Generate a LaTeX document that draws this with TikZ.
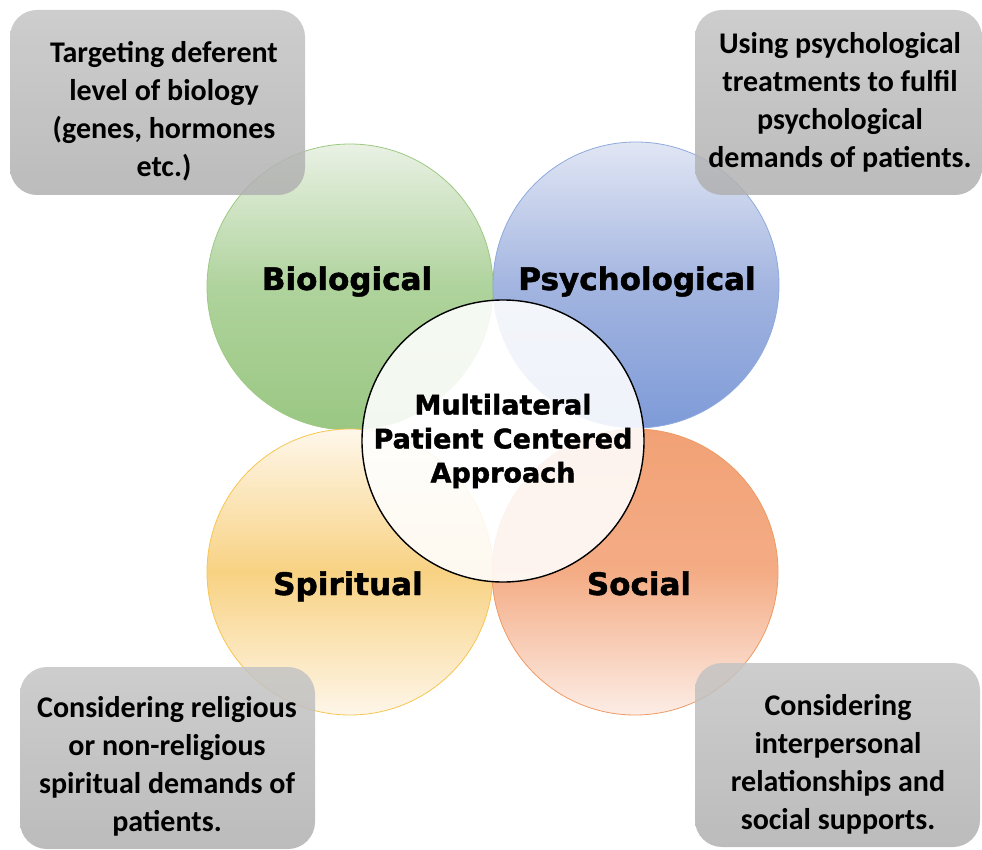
\documentclass[tikz,border=0pt]{standalone}
\usepackage{fontspec}
\newfontfamily\notefont{Carlito}
\newfontfamily\headfont{DejaVu Sans}[BoldFeatures={FakeBold=1.5}]

\definecolor{biotop}{HTML}{E9F1E4}
\definecolor{biomid}{HTML}{AFD39C}
\definecolor{biobot}{HTML}{9AC783}
\definecolor{bioline}{HTML}{9DC983}
\definecolor{psytop}{HTML}{E1E6F4}
\definecolor{psymid}{HTML}{A3B5E0}
\definecolor{psybot}{HTML}{7E9BD8}
\definecolor{psyline}{HTML}{8FAADC}
\definecolor{spitop}{HTML}{FEF7EA}
\definecolor{spimid}{HTML}{F8D283}
\definecolor{spibot}{HTML}{FEF6E9}
\definecolor{spiline}{HTML}{F7C651}
\definecolor{soctop}{HTML}{F2A175}
\definecolor{socmid}{HTML}{F4AC85}
\definecolor{socbot}{HTML}{FCEDE6}
\definecolor{socline}{HTML}{EE9A64}

\tikzset{
  sphere/.style={circle, minimum size=286pt, inner sep=0pt, line width=0.8pt},
  sphname/.style={font=\headfont\bfseries\fontsize{31}{36}\selectfont, anchor=base},
  notebox/.style={rectangle, rounded corners=27pt, top color=black!23, bottom color=black!31,
    fill opacity=0.85, inner sep=0pt},
  notetext/.style={align=center, inner sep=0pt, anchor=base,
    font=\notefont\bfseries\fontsize{30}{38}\selectfont},
}

\begin{document}
\begin{tikzpicture}[x=1pt, y=-1pt]
  \useasboundingbox (0, 0) rectangle (982, 850);

  % les quatre spheres
  \node[sphere, draw=bioline, top color=biotop, bottom color=biobot, middle color=biomid] (bio) at (350, 287) {};
  \node[sphere, draw=psyline, top color=psytop, bottom color=psybot, middle color=psymid] (psy) at (636, 285) {};
  \node[sphere, draw=spiline, top color=spitop, bottom color=spibot, middle color=spimid] (spi) at (350, 572) {};
  \node[sphere, draw=socline, top color=soctop, bottom color=socbot, middle color=socmid] (soc) at (635, 572) {};

  % centre
  \node[circle, minimum size=282pt, inner sep=0pt, draw=black, line width=1.4pt,
    fill=white, fill opacity=0.88, text opacity=1, align=center,
    font=\headfont\bfseries\fontsize{27}{34}\selectfont] (core) at (503, 441)
    {Multilateral\\Patient Centered\\Approach};

  % noms
  \node[sphname] (bioname) at (347, 290) {Biological};
  \node[sphname] (psyname) at (637, 290) {Psychological};
  \node[sphname] (spiname) at (348, 595) {Spiritual};
  \node[sphname] (socname) at (639, 595) {Social};

  % encadres
  \node[notebox, minimum width=295pt, minimum height=185pt] (bionote) at (157.5, 102.5) {};
  \node[notebox, minimum width=287pt, minimum height=185pt] (psynote) at (838.5, 102.5) {};
  \node[notebox, minimum width=295pt, minimum height=182pt] (spinote) at (167.5, 758) {};
  \node[notebox, minimum width=285pt, minimum height=184pt] (socnote) at (837.5, 755) {};

  % textes (ligne de base de la derniere ligne)
  \node[notetext] (biotext) at (164, 177)
    {Targeting deferent\\level of biology\\(genes, hormones\\etc.)};
  \node[notetext] (psytext) at (840, 168)
    {Using psychological\\treatments to fulfil\\psychological\\demands of patients.};
  \node[notetext] (spitext) at (167, 831)
    {Considering religious\\or non-religious\\spiritual demands of\\patients.};
  \node[notetext] (soctext) at (838, 829)
    {Considering\\interpersonal\\relationships and\\social supports.};
\end{tikzpicture}
\end{document}
